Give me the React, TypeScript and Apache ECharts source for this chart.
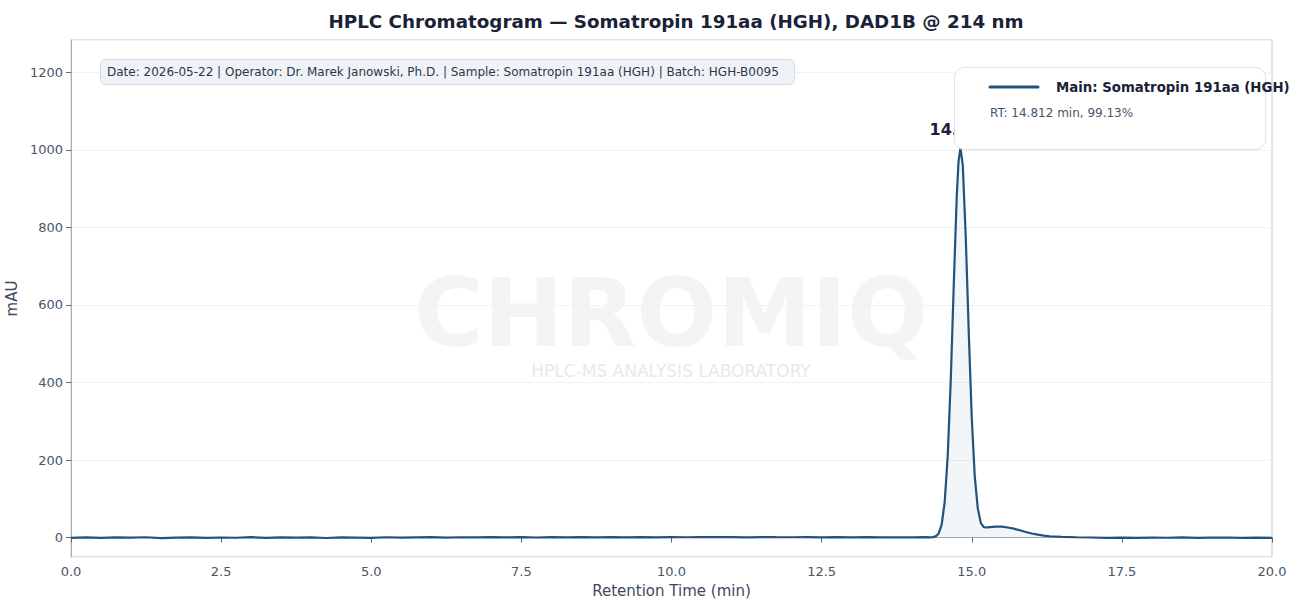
import React, { useEffect, useRef } from "react";
import * as echarts from "echarts";

const chartTitle = "HPLC Chromatogram — Somatropin 191aa (HGH), DAD1B @ 214 nm";
const infoText =
  "Date: 2026-05-22 | Operator: Dr. Marek Janowski, Ph.D. | Sample: Somatropin 191aa (HGH) | Batch: HGH-B0095";
const seriesName = "Main: Somatropin 191aa (HGH)";
const peakRT = 14.812;
const peakHeight = 1005;
const peakAreaPct = 99.13;
const xTicks = [0, 2.5, 5, 7.5, 10, 12.5, 15, 17.5, 20];
const yTicks = [0, 200, 400, 600, 800, 1000, 1200];

const baselineTimes = [
  0, 0.25, 0.5, 0.75, 1, 1.25, 1.5, 1.75, 2, 2.25, 2.5, 2.75, 3, 3.25, 3.5, 3.75, 4, 4.25, 4.5, 4.75,
  5, 5.25, 5.5, 5.75, 6, 6.25, 6.5, 6.75, 7, 7.25, 7.5, 7.75, 8, 8.25, 8.5, 8.75, 9, 9.25, 9.5, 9.75,
  10, 10.25, 10.5, 10.75, 11, 11.25, 11.5, 11.75, 12, 12.25, 12.5, 12.75, 13, 13.25, 13.5, 13.75, 14, 14.25,
];
const baselineValues = [
  -0.6, 0.4, -0.9, 0.7, -0.3, 0.9, -1.1, 0.2, 0.6, -0.8, 0.3, -0.4,
  1.0, -0.7, 0.5, -0.2, 0.8, -1.0, 0.4, 0.1, -0.6, 0.9, -0.3, 0.6,
  1.1, 0.2, 0.9, 0.4, 1.3, 0.6, 1.0, 0.3, 1.2, 0.7, 1.4, 0.5,
  1.1, 0.8, 1.5, 0.6, 1.2, 0.9, 1.6, 1.0, 1.3, 0.7, 1.5, 1.1,
  0.9, 1.4, 0.6, 1.2, 0.8, 1.0, 0.5, 0.9, 0.7, 1.1,
];
const peakTimes = [
  14.3, 14.35, 14.4, 14.45, 14.5, 14.55, 14.6, 14.65, 14.7, 14.75, 14.78, 14.812, 14.85, 14.9, 14.95,
  15, 15.05, 15.1, 15.15, 15.2, 15.25, 15.3, 15.4, 15.5, 15.6, 15.7, 15.8, 15.9, 16, 16.1, 16.2, 16.3, 16.5,
];
const peakValues = [
  0.8, 1.2, 3.2, 10.8, 34, 93, 211, 404, 650, 879, 970, 1005, 961, 776, 530,
  309, 158, 76, 38, 27, 26, 27, 28.5, 28.5, 26, 23, 19, 14.5, 10.5, 7.5, 5, 3.5, 1.8,
];
const tailTimes = [16.75, 17, 17.25, 17.5, 17.75, 18, 18.25, 18.5, 18.75, 19, 19.25, 19.5, 19.75, 20];
const tailValues = [0.9, 0.3, -0.5, 0.2, -0.8, 0.1, -0.4, 0.6, -0.7, -0.2, 0.3, -0.9, 0.1, -0.5];

const FONT = "DejaVu Sans";

export default function App() {
  const ref = useRef<HTMLDivElement>(null);
  useEffect(() => {
    if (!ref.current) return;
    const chart = echarts.init(ref.current, null, { renderer: "svg" });
    const times = [...baselineTimes, ...peakTimes, ...tailTimes];
    const values = [...baselineValues, ...peakValues, ...tailValues];
    const data = times.map((t, i) => [t, values[i]]);
    const axisColor = "#a3adba";
    chart.setOption({
      animation: false,
      backgroundColor: "#ffffff",
      textStyle: { fontFamily: FONT },
      title: {
        text: chartTitle,
        left: 671,
        textAlign: "center",
        top: 7,
        textStyle: { fontFamily: FONT, fontSize: 18.3, fontWeight: "bold", color: "#1a2238" },
      },
      grid: {
        left: 71,
        right: 26,
        top: 40,
        bottom: 44,
        containLabel: false,
        outerBoundsMode: "none",
        show: true,
        borderColor: "#c3cad4",
        borderWidth: 1,
        backgroundColor: "transparent",
      },
      xAxis: {
        type: "value",
        min: xTicks[0],
        max: xTicks[xTicks.length - 1],
        interval: 2.5,
        name: "Retention Time (min)",
        nameLocation: "middle",
        nameGap: 26,
        nameTextStyle: { fontFamily: FONT, fontSize: 15, color: "#3d4a5c" },
        axisLine: { show: true, lineStyle: { color: axisColor, width: 1 } },
        axisTick: { show: true, length: 5, lineStyle: { color: "#5a6575" } },
        axisLabel: {
          fontFamily: FONT,
          fontSize: 13,
          color: "#4a5568",
          margin: 8,
          formatter: (v: number) => v.toFixed(1),
        },
        splitLine: { show: false },
      },
      yAxis: {
        type: "value",
        min: -50,
        max: 1283,
        splitNumber: 7,
        minInterval: yTicks[1] - yTicks[0],
        maxInterval: yTicks[1] - yTicks[0],
        name: "mAU",
        nameLocation: "middle",
        nameGap: 43,
        nameTextStyle: { fontFamily: FONT, fontSize: 15, color: "#3d4a5c" },
        axisLine: { show: true, lineStyle: { color: axisColor, width: 1 } },
        axisTick: { show: true, length: 5, lineStyle: { color: "#5a6575" } },
        axisLabel: {
          fontFamily: FONT,
          fontSize: 13,
          color: "#4a5568",
          margin: 8,
          showMinLabel: false,
          showMaxLabel: false,
          formatter: (v: number) => String(Math.round(v)),
        },
        splitLine: { show: true, lineStyle: { color: "#eef1f5", width: 1 } },
      },
      graphic: [
        {
          type: "text",
          z: 0,
          silent: true,
          style: {
            text: "CHROMIQ",
            x: 671,
            y: 313,
            textAlign: "center",
            textVerticalAlign: "middle",
            fontFamily: FONT,
            fontWeight: "bold",
            fontSize: 95,
            lineHeight: 78,
            fill: "#f3f4f6",
          },
        },
        {
          type: "text",
          z: 0,
          silent: true,
          style: {
            text: "HPLC-MS ANALYSIS LABORATORY",
            x: 671,
            y: 371,
            textAlign: "center",
            textVerticalAlign: "middle",
            fontFamily: FONT,
            fontSize: 17,
            fill: "#e6e9ef",
          },
        },
        {
          type: "rect",
          z: 50,
          shape: { x: 100.5, y: 59.5, width: 694, height: 25, r: 5 },
          style: { fill: "#eff3f8", stroke: "#d3dbe6", lineWidth: 1 },
        },
        {
          type: "text",
          z: 51,
          style: {
            text: infoText,
            x: 107,
            y: 72,
            textVerticalAlign: "middle",
            fontFamily: FONT,
            fontSize: 12,
            fill: "#2d3748",
          },
        },
        {
          type: "rect",
          z: 100,
          shape: { x: 954.5, y: 67.5, width: 311, height: 82, r: 10 },
          style: { fill: "#ffffff", stroke: "#dde3ea", lineWidth: 1 },
        },
        {
          type: "line",
          z: 101,
          shape: { x1: 990, y1: 87, x2: 1038, y2: 87 },
          style: { stroke: "#23527c", lineWidth: 3, lineCap: "round" },
        },
        {
          type: "text",
          z: 101,
          style: {
            text: seriesName,
            x: 1056,
            y: 87,
            textVerticalAlign: "middle",
            fontFamily: FONT,
            fontSize: 13.3,
            fontWeight: "bold",
            fill: "#1a2238",
          },
        },
        {
          type: "text",
          z: 101,
          style: {
            text: `RT: ${peakRT.toFixed(3)} min, ${peakAreaPct.toFixed(2)}%`,
            x: 990,
            y: 113,
            textVerticalAlign: "middle",
            fontFamily: FONT,
            fontSize: 12,
            fill: "#4a5568",
          },
        },
      ],
      series: [
        {
          type: "line",
          name: seriesName,
          data,
          showSymbol: false,
          symbol: "none",
          z: 5,
          lineStyle: { color: "#23527c", width: 2.2 },
          areaStyle: { color: "rgba(35,82,124,0.08)", origin: 0 },
          markPoint: {
            symbol: "circle",
            symbolSize: 1,
            itemStyle: { color: "rgba(0,0,0,0)" },
            label: {
              show: true,
              position: "top",
              distance: 10,
              formatter: peakRT.toFixed(3),
              fontFamily: FONT,
              fontSize: 16,
              fontWeight: "bold",
              color: "#1a2238",
            },
            data: [{ coord: [peakRT, peakHeight] }],
          },
        },
      ],
    });
    return () => chart.dispose();
  }, []);
  return (
    <div
      ref={ref}
      style={{ position: "fixed", left: 0, top: 0, width: 1298, height: 601 }}
    />
  );
}
